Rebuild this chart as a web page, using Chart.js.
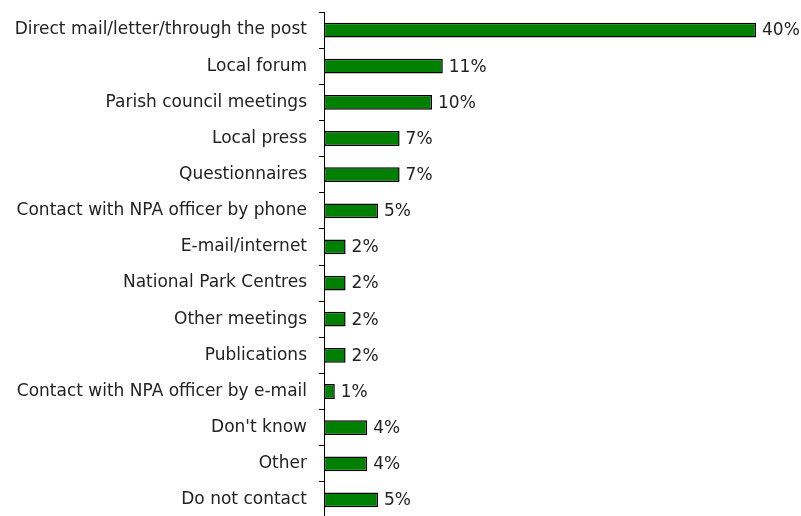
<!DOCTYPE html>
<html lang="en">
<head>
    <meta charset="UTF-8">
    <title>Contact methods</title>
    <script src="https://cdn.jsdelivr.net/npm/chart.js"></script>
    <style>
        body {
            margin: 0;
            padding: 0;
            background: #ffffff;
            overflow: hidden;
        }
        .chart-box {
            width: 801px;
            height: 520px;
        }
    </style>
</head>
<body>
    <div class="chart-box">
        <canvas id="contactChart"></canvas>
    </div>

    <script>
        const categories = [
            'Direct mail/letter/through the post',
            'Local forum',
            'Parish council meetings',
            'Local press',
            'Questionnaires',
            'Contact with NPA officer by phone',
            'E-mail/internet',
            'National Park Centres',
            'Other meetings',
            'Publications',
            'Contact with NPA officer by e-mail',
            "Don't know",
            'Other',
            'Do not contact'
        ];
        const percentages = [40, 11, 10, 7, 7, 5, 2, 2, 2, 2, 1, 4, 4, 5];

        const fontFamily = '"DejaVu Sans", Tahoma, sans-serif';
        const fontSize = 17;

        // writes the % value just past the end of each bar
        const valueLabels = {
            id: 'valueLabels',
            afterDatasetsDraw(chart) {
                const ctx = chart.ctx;
                const meta = chart.getDatasetMeta(0);
                ctx.save();
                ctx.font = fontSize + 'px ' + fontFamily;
                ctx.fillStyle = '#222';
                ctx.textBaseline = 'middle';
                ctx.textAlign = 'left';
                meta.data.forEach((bar, i) => {
                    ctx.fillText(percentages[i] + '%', bar.x + 6, bar.y + 1);
                });
                ctx.restore();
            }
        };

        const ctx = document.getElementById('contactChart').getContext('2d');
        new Chart(ctx, {
            type: 'bar',
            data: {
                labels: categories,
                datasets: [{
                    data: percentages,
                    backgroundColor: '#008000',
                    borderColor: '#000000',
                    borderWidth: 1.5,
                    borderSkipped: false,
                    categoryPercentage: 1.0,
                    barPercentage: 0.41
                }]
            },
            options: {
                indexAxis: 'y',
                responsive: true,
                maintainAspectRatio: false,
                animation: false,
                layout: {
                    padding: { top: 12, right: 45, bottom: 2, left: 0 }
                },
                scales: {
                    x: {
                        display: false,
                        min: 0,
                        max: 40
                    },
                    y: {
                        afterFit(scale) {
                            scale.width = 324;
                            // labels sit at category centres, no extra room needed
                            scale.paddingTop = 0;
                            scale.paddingBottom = 0;
                        },
                        grid: {
                            drawOnChartArea: false,
                            offset: true,
                            tickLength: 5,
                            color: '#000'
                        },
                        border: { color: '#000', width: 1 },
                        ticks: {
                            color: '#222',
                            padding: 12,
                            font: { family: fontFamily, size: fontSize }
                        }
                    }
                },
                plugins: {
                    legend: { display: false },
                    tooltip: { enabled: false }
                }
            },
            plugins: [valueLabels]
        });
    </script>
</body>
</html>
